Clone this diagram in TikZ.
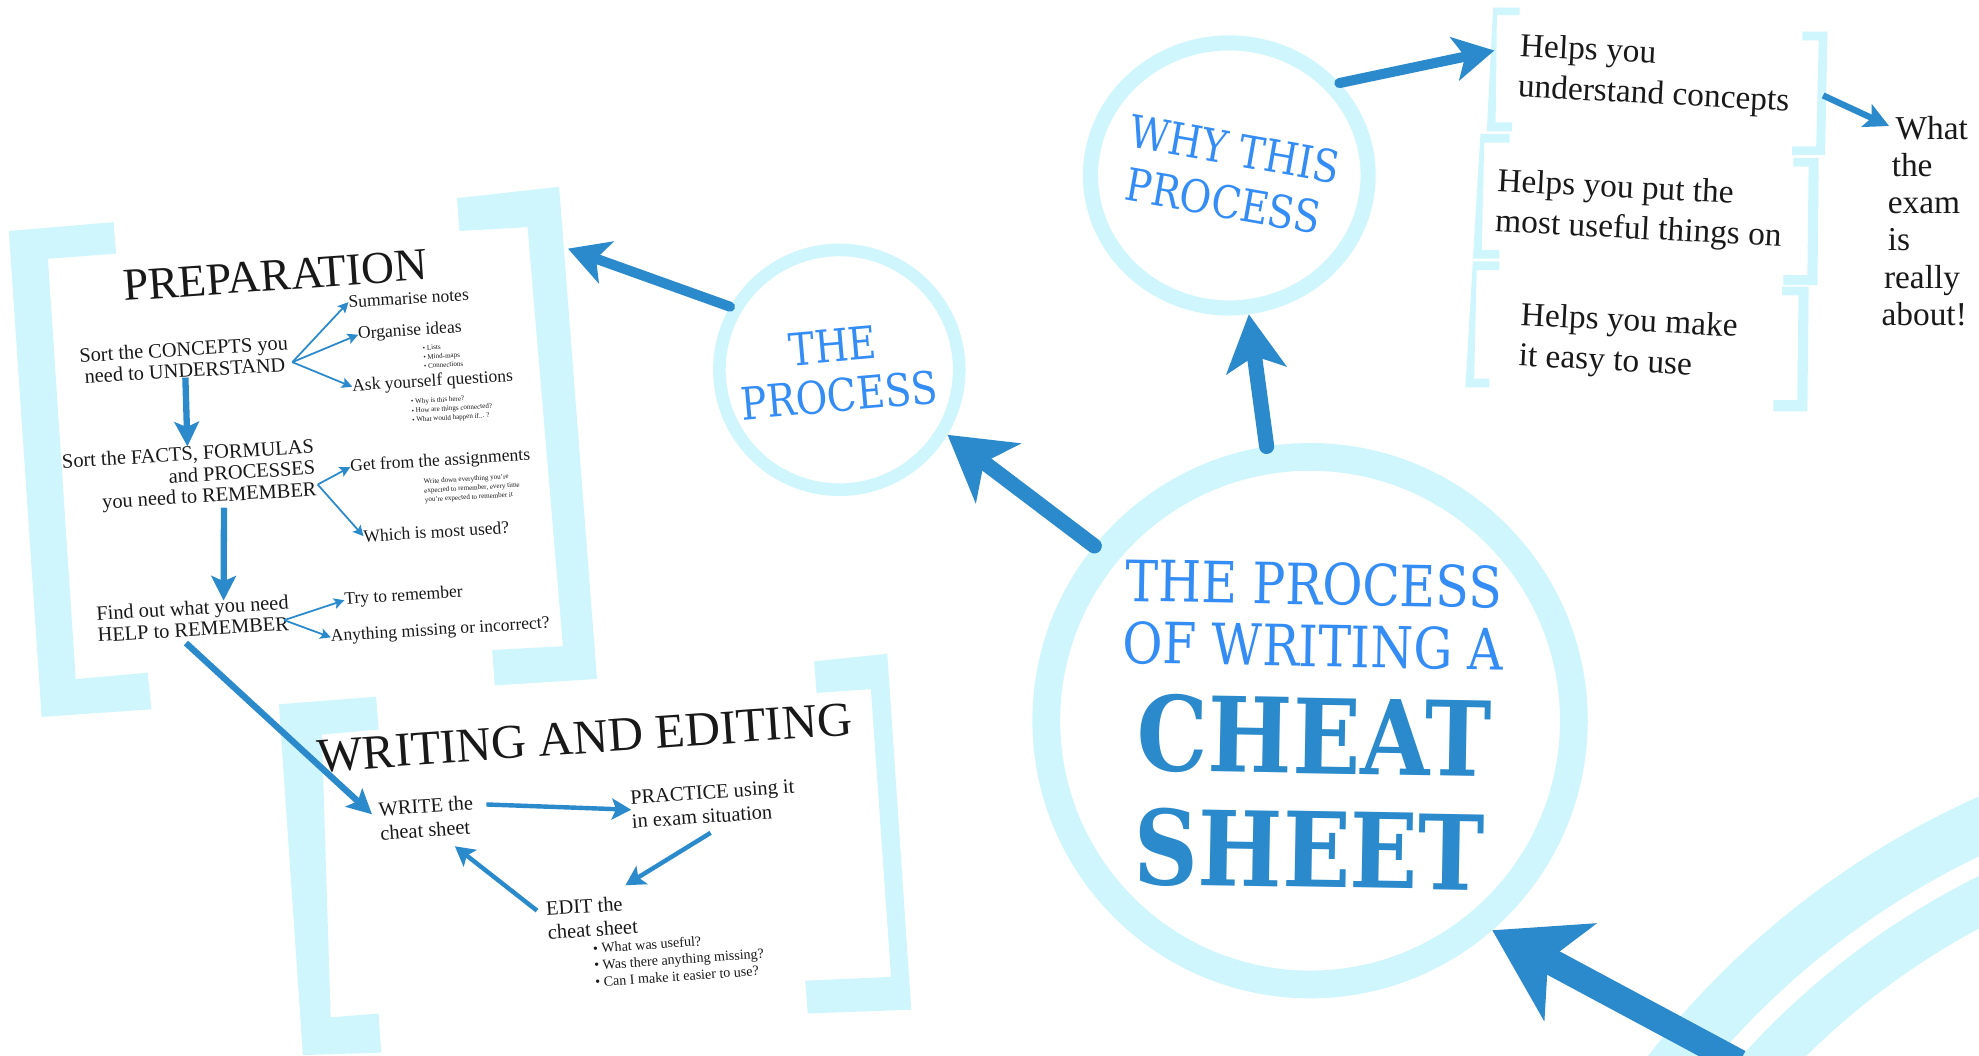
\documentclass[tikz,border=0pt]{standalone}
\usepackage{fontspec}
\setmainfont{Liberation Serif}
\newfontfamily\ttlfont{DejaVu Serif}[FakeStretch=0.86]
\usetikzlibrary{arrows.meta,shapes.geometric,calc}
\definecolor{ring}{RGB}{208,246,253}
\definecolor{arr}{RGB}{43,138,204}
\definecolor{ttlblue}{RGB}{52,140,245}
\definecolor{ink}{RGB}{25,25,25}
\newcommand\pxu{0.35911pt}
\newcommand\fsz[2]{\fontsize{#1}{#2}\selectfont}
\tikzset{
  txt/.style={inner sep=0pt, outer sep=0pt, text=ink},
  ringc/.style={draw=ring, inner sep=0pt},
  brk/.style={fill=ring, draw=none},
  ttlA/.style={inner sep=0pt, text=ttlblue, font=\ttlfont\fsz{16.2}{18}},
  ttlB/.style={inner sep=0pt, text=arr, font=\ttlfont\bfseries\fsz{29.5}{32}},
  ttlC/.style={inner sep=0pt, text=ttlblue, font=\ttlfont\fsz{12.8}{14}},
  headA/.style={txt, font=\fsz{13}{14}},
  headB/.style={txt, font=\fsz{13.8}{15}},
  itm/.style={txt, font=\fsz{5.8}{6.1}},
  itmw/.style={txt, font=\fsz{5.8}{6.8}},
  sub/.style={txt, font=\fsz{5}{6}},
  tiny/.style={txt, font=\fsz{2}{2.6}, align=left},
  hlp/.style={txt, font=\fsz{9.5}{11.5}, align=left, rotate=-3},
  arrA/.style={draw=arr, line width=21*\pxu, -{Stealth[length=25pt,width=31pt,inset=7pt]}},
  arrB/.style={draw=arr, line width=12*\pxu, line cap=round, -{Stealth[length=18pt,width=21pt,inset=5pt]}},
  arrB2/.style={draw=arr, line width=12*\pxu, line cap=round, -{Stealth[length=16pt,width=17pt,inset=4pt]}},
  arrC/.style={draw=arr, line width=8*\pxu, line cap=round, -{Stealth[length=11.5pt,width=12.5pt,inset=3pt]}},
  arrD/.style={draw=arr, line width=5*\pxu, -{Stealth[length=7pt,width=7pt,inset=1.5pt]}},
  arrE/.style={draw=arr, line width=3.5*\pxu, -{Stealth[length=5.5pt,width=6pt,inset=1.2pt]}},
  arrF/.style={draw=arr, line width=1.4*\pxu, -{Stealth[length=3pt,width=3pt,inset=0.6pt]}},
}
\begin{document}
\begin{tikzpicture}[x=0.35911pt, y=-0.35911pt]
\path[use as bounding box, fill=white] (0,0) rectangle (1568,836);

% large rings bottom right
\begin{scope}
\clip (0,0) rectangle (1568,836);
\draw[ring, line width=43*\pxu] (1845,1255) circle[radius=661];
\draw[ring, line width=37*\pxu] (1845,1255) circle[radius=607];
\end{scope}

% brackets: PREPARATION
\fill[brk] (7,183) -- (90,176) -- (92,201) -- (38,205) -- (60,538) -- (117,533) -- (120,562) -- (33,568) -- cycle;
\fill[brk] (362,157) -- (443,148) -- (473,538) -- (392,543) -- (390,515) -- (446,512) -- (418,180) -- (364,183) -- cycle;
% brackets: WRITING AND EDITING
\fill[brk] (221,558) -- (298,552) -- (300,578) -- (255,582) -- (262,806) -- (300,803) -- (302,834) -- (240,836) -- cycle;
\fill[brk] (645,524) -- (703,518) -- (722,800) -- (640,803) -- (638,777) -- (706,774) -- (690,546) -- (647,549) -- cycle;
% brackets: helps
\fill[brk] (1183,6) -- (1204,6) -- (1204,12) -- (1186,12) -- (1185,97) -- (1198,97) -- (1198,104) -- (1178,104) -- cycle;
\fill[brk] (1173,106) -- (1196,106) -- (1196,113) -- (1176,113) -- (1174,198) -- (1188,198) -- (1188,205) -- (1167,205) -- cycle;
\fill[brk] (1167,207) -- (1188,207) -- (1188,214) -- (1170,214) -- (1168,300) -- (1180,300) -- (1180,307) -- (1161,307) -- cycle;
\fill[brk] (1428,25) -- (1448,25) -- (1446,123) -- (1420,123) -- (1420,116) -- (1439,116) -- (1441,32) -- (1428,32) -- cycle;
\fill[brk] (1421,125) -- (1441,125) -- (1440,226) -- (1413,226) -- (1413,218) -- (1432,218) -- (1433,132) -- (1421,132) -- cycle;
\fill[brk] (1412,227) -- (1433,227) -- (1432,326) -- (1405,326) -- (1405,317) -- (1424,317) -- (1425,234) -- (1412,234) -- cycle;

% circles
\node[ringc, circle, line width=22*\pxu, minimum size=418*\pxu] (big) at (1038,571) {};
\node[ringc, circle, line width=10*\pxu, minimum size=190*\pxu] (proc) at (665,293) {};
\node[ringc, ellipse, line width=12*\pxu, minimum width=220*\pxu, minimum height=210*\pxu] (why) at (974,139) {};

% circle titles
\node[ttlA, anchor=base, rotate=-1] (t1) at (1041,479) {THE PROCESS};
\node[ttlA, anchor=base, rotate=-1] (t2) at (1040,528) {OF WRITING A};
\node[ttlB, anchor=base, rotate=-1] (t3) at (1041,613) {CHEAT};
\node[ttlB, anchor=base, rotate=-1] (t4) at (1037,703) {SHEET};
\node[ttlC, anchor=base, rotate=5] (p1) at (661,287) {THE};
\node[ttlC, anchor=base, rotate=5] (p2) at (666,326) {PROCESS};
\node[ttlC, anchor=base, rotate=-10] (w1) at (976,131) {WHY THIS};
\node[ttlC, anchor=base, rotate=-10] (w2) at (967,172) {PROCESS};

% PREPARATION panel
\node[headA, anchor=base, rotate=4] (prep) at (219,230) {PREPARATION};
\node[itm, align=center, rotate=3.5] (concepts) at (146,285) {Sort the CONCEPTS you\\need to UNDERSTAND};
\node[sub, anchor=base, rotate=3.5] (summ) at (324,241) {Summarise notes};
\node[sub, anchor=base, rotate=3.5] (org) at (325,266) {Organise ideas};
\node[tiny, rotate=3.5] (orgb) at (351,282) {\textbullet\ Lists\\\textbullet\ Mind-maps\\\textbullet\ Connections};
\node[sub, anchor=base, rotate=3.5] (ask) at (343,306) {Ask yourself questions};
\node[tiny, rotate=3.5] (askb) at (358,324) {\textbullet\ Why is this here?\\\textbullet\ How are things connected?\\\textbullet\ What would happen if... ?};
\node[itm, align=right, rotate=3.5] (facts) at (150,378) {Sort the FACTS, FORMULAS\\and PROCESSES\\you need to REMEMBER};
\node[sub, anchor=base, rotate=3.5] (getass) at (349,369) {Get from the assignments};
\node[tiny, rotate=3.5] (getb) at (374,387) {Write down everything you're\\expected to remember, every time\\you're expected to remember it};
\node[sub, anchor=base, rotate=3.5] (which) at (346,426) {Which is most used?};
\node[itm, align=left, rotate=3.5] (helpn) at (153,490) {Find out what you need\\HELP to REMEMBER};
\node[sub, anchor=base, rotate=3.5] (tryr) at (320,476) {Try to remember};
\node[sub, anchor=base, rotate=3.5] (anym) at (349,503) {Anything missing or incorrect?};

\draw[arrF] ($(concepts.east)+(3,7)$) -- (summ.west);
\draw[arrF] ($(concepts.east)+(3,7)$) -- (org.west);
\draw[arrF] ($(concepts.east)+(3,7)$) -- (ask.west);
\draw[arrF] ($(facts.east)+(2,12)$) -- (getass.west);
\draw[arrF] ($(facts.east)+(2,12)$) -- (which.west);
\draw[arrF] ($(helpn.east)+(-4,6)$) -- (tryr.west);
\draw[arrF] ($(helpn.east)+(-4,6)$) -- (anym.west);
\draw[arrD] (concepts.south) -- (facts.north);
\draw[arrD] ($(facts.south)+(26,0)$) -- ($(helpn.north)+(25,0)$);

% WRITING AND EDITING panel
\node[headB, anchor=base, rotate=4] (wae) at (464,597) {WRITING AND EDITING};
\node[itmw, align=left, rotate=4] (write) at (338,648) {WRITE the\\cheat sheet};
\node[itmw, align=left, rotate=4] (practice) at (565,637) {PRACTICE using it\\in exam situation};
\node[itmw, align=left, rotate=4] (edit) at (469,727) {EDIT the\\cheat sheet};
\node[txt, font=\fsz{4}{4.8}, align=left, rotate=4] (editb) at (538,760) {\textbullet\ What was useful?\\\textbullet\ Was there anything missing?\\\textbullet\ Can I make it easier to use?};

\draw[arrE] ($(write.east)+(10,-8)$) -- (practice.west);
\draw[arrE] ($(practice.south)+(-3,8)$) -- ($(edit.north east)+(-8,-8)$);
\draw[arrE] ($(edit.west)+(-8,-8)$) -- ($(write.south east)+(-16,10)$);
\draw[arrD, shorten >=8*\pxu, shorten <=2*\pxu] ($(helpn.south)+(-8,4)$) -- (write.west);

% helps panel
\node[hlp] (h1) at (1311,60) {Helps you\\understand concepts};
\node[hlp] (h2) at (1299,167) {Helps you put the\\most useful things on};
\node[hlp] (h3) at (1290,272) {Helps you make\\it easy to use};
\node[txt, font=\fsz{9.5}{10.6}, align=left] (what) at (1525,175) {\hspace*{4pt}What\\\hspace*{2.9pt}the\\\hspace*{1.8pt}exam\\\hspace*{1.8pt}is\\\hspace*{0.7pt}really\\about!};

% main arrows
\coordinate (tailA) at (1378,842);
\coordinate (prepR) at (450,197);
\coordinate (h1in) at (1184,40);
\draw[arrA] (tailA) -- (big.-49);
\draw[arrB] (big.141) -- (proc.-31);
\draw[arrB2] (big.99) -- (why.-82);
\draw[arrC] (proc.150) -- (prepR);
\draw[arrC] (why.40) -- (h1in);
\draw[arrD] ($(h1.east)+(26,10)$) -- ($(what.north west)+(6,8)$);
\end{tikzpicture}
\end{document}
